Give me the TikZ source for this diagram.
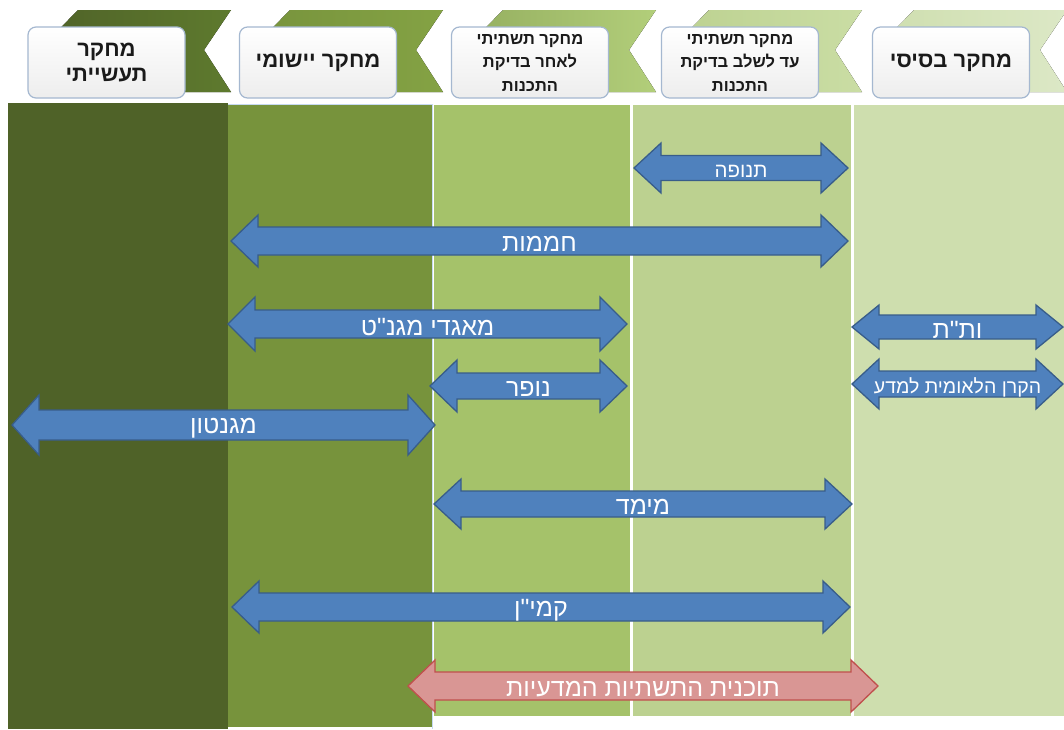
\documentclass[tikz,border=0pt]{standalone}
\usepackage{fontspec}
\newfontfamily\heb[Script=Hebrew]{Liberation Sans}
\TeXXeTstate=1
\definecolor{colA}{HTML}{4F6228}
\definecolor{colB}{HTML}{77933C}
\definecolor{colC}{HTML}{A5C26A}
\definecolor{colD}{HTML}{BCD190}
\definecolor{colE}{HTML}{CEDEAE}
\definecolor{chA}{HTML}{5E7A2E}
\definecolor{chB}{HTML}{84A244}
\definecolor{chC}{HTML}{B2CE7A}
\definecolor{chD}{HTML}{CADDA4}
\definecolor{chE}{HTML}{DCE8C6}
\definecolor{arrBlue}{HTML}{4F81BD}
\definecolor{arrBlueD}{HTML}{385D8A}
\definecolor{arrRed}{HTML}{D99694}
\definecolor{arrRedD}{HTML}{C0504D}
\definecolor{boxBorder}{HTML}{A5B8D0}
\definecolor{lightBlue}{HTML}{C6D9F1}
\definecolor{hdrText}{HTML}{1A1A1A}
\tikzset{
  hbox/.style={draw=boxBorder, line width=1.2pt, rounded corners=8pt,
    top color=white, bottom color=black!7, text=hdrText,
    minimum width=157pt, minimum height=71pt, align=center, inner sep=2pt},
  hbig/.style={font=\heb\bfseries\fontsize{22}{25}\selectfont},
  hsmall/.style={font=\heb\bfseries\fontsize{16.5}{23.5}\selectfont},
  bluearr/.style={fill=arrBlue, draw=arrBlueD, line width=1.3pt, line join=miter},
  redarr/.style={fill=arrRed, draw=arrRedD, line width=1.3pt, line join=miter},
  arrtext/.style={text=white, font=\heb\fontsize{25}{27}\selectfont, inner sep=0pt},
  arrtextA/.style={text=white, font=\heb\fontsize{20.5}{23}\selectfont, inner sep=0pt},
  arrtextB/.style={text=white, font=\heb\fontsize{19.5}{22}\selectfont, inner sep=0pt},
}
% #1 name, #2 x1, #3 x2, #4 yc, #5 head half, #6 shaft half, #7 path style, #8 text style, #9 node content
\newcommand{\dblarr}[9]{%
  \draw[#7] (#2,#4) -- ({#2+27},{#4-#5}) -- ({#2+27},{#4-#6}) -- ({#3-27},{#4-#6})
    -- ({#3-27},{#4-#5}) -- (#3,#4) -- ({#3-27},{#4+#5}) -- ({#3-27},{#4+#6})
    -- ({#2+27},{#4+#6}) -- ({#2+27},{#4+#5}) -- cycle;
  \node[#8] (#1) at ({(#2+#3)/2},{#4+3}) {#9};
}
% chevron with right-top corner at x=#1, colours #2 (left) #3 (right)
\newcommand{\chevron}[3]{%
  \fill[left color=#3, right color=#2] ({#1-153},10) -- (#1,10) -- ({#1-27},50) -- (#1,92)
    -- ({#1-153},92) -- ({#1-192},50) -- cycle;
}
\begin{document}
\begin{tikzpicture}[x=1pt,y=-1pt]
\useasboundingbox (0,0) rectangle (1064,729);
\fill[white] (0,0) rectangle (1064,729);
% columns
\fill[colA] (8,103) rectangle (228,729);
\fill[colB] (228,105) rectangle (432,727);
\draw[lightBlue, line width=1.5pt] (228,104.5) -- (432.5,104.5) -- (432.5,729);
\fill[colC] (434,105) rectangle (629.5,716);
\fill[colD] (632.5,105) rectangle (850.5,716);
\fill[colE] (853.5,105) rectangle (1064,716);
% chevrons
\chevron{231}{chA}{colA}
\chevron{443}{chB}{colB}
\chevron{656}{chC}{colC!90!black}
\chevron{862}{chD}{colD}
\chevron{1067}{chE}{colE}
% header boxes
\node[hbox, hbig] (h1) at (106.5,62.5) {\beginR מחקר\endR\\\beginR תעשייתי\endR};
\node[hbox, hbig] (h2) at (318,62.5) {\beginR מחקר יישומי\endR};
\node[hbox, hsmall] (h3) at (530,62.5) {\beginR מחקר תשתיתי\endR\\\beginR לאחר בדיקת\endR\\\beginR התכנות\endR};
\node[hbox, hsmall] (h4) at (740,62.5) {\beginR מחקר תשתיתי\endR\\\beginR עד לשלב בדיקת\endR\\\beginR התכנות\endR};
\node[hbox, hbig] (h5) at (951,62.5) {\beginR מחקר בסיסי\endR};
% arrows
\dblarr{a1}{634}{848}{168}{25}{12.5}{bluearr}{arrtextA}{\beginR תנופה\endR}
\dblarr{a2}{231}{848}{241}{26}{14}{bluearr}{arrtext}{\beginR חממות\endR}
\dblarr{a3}{228}{627}{324}{27}{14}{bluearr}{arrtext}{\beginR מאגדי מגנ"ט\endR}
\dblarr{a4}{852}{1063}{327}{22}{12}{bluearr}{arrtext}{\beginR ות"ת\endR}
\dblarr{a5}{852}{1063}{384}{25}{13}{bluearr}{arrtextB}{\beginR הקרן הלאומית למדע\endR}
\dblarr{a6}{430}{627}{386}{26}{13}{bluearr}{arrtext}{\beginR נופר\endR}
\dblarr{a7}{12}{435}{425}{30}{15}{bluearr}{arrtext}{\beginR מגנטון\endR}
\dblarr{a8}{434}{852}{504}{25}{13}{bluearr}{arrtext}{\beginR מימד\endR}
\dblarr{a9}{232}{850}{607}{26}{14}{bluearr}{arrtext}{\beginR קמי"ן\endR}
\dblarr{a10}{408}{878}{686}{26}{14}{redarr}{arrtext}{\beginR תוכנית התשתיות המדעיות\endR}
\end{tikzpicture}
\end{document}
